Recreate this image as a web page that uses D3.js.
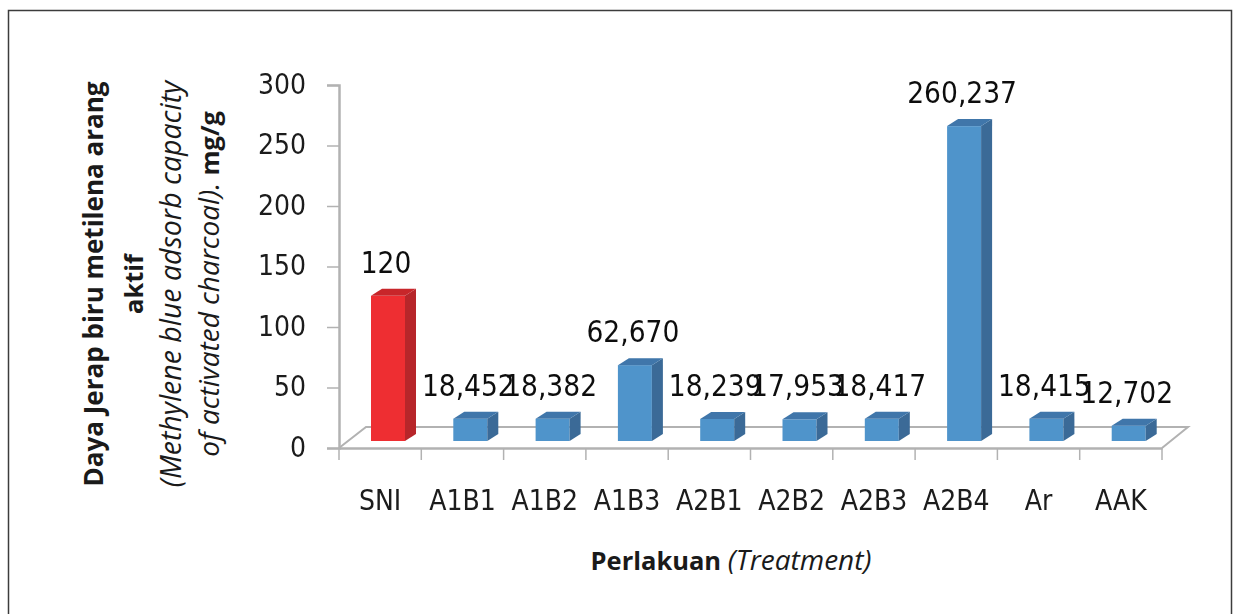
<!DOCTYPE html>
<html>
<head>
<meta charset="utf-8">
<script src="https://cdn.jsdelivr.net/npm/d3@7"></script>
<style>
  html, body { margin: 0; padding: 0; background: #fff; }
  svg { display: block; }
</style>
</head>
<body>
<div id="chart"></div>
<script>
const categories = ["SNI", "A1B1", "A1B2", "A1B3", "A2B1", "A2B2", "A2B3", "A2B4", "Ar", "AAK"];
const values = [120, 18.452, 18.382, 62.67, 18.239, 17.953, 18.417, 260.237, 18.415, 12.702];
const valueLabels = ["120", "18,452", "18,382", "62,670", "18,239", "17,953", "18,417", "260,237", "18,415", "12,702"];
const yTicks = [0, 50, 100, 150, 200, 250, 300];

const width = 1239;
const height = 614;

const svg = d3.select("#chart").append("svg")
  .attr("width", width)
  .attr("height", height);

// the picture is a soft scan, a very light blur gets closer to it
svg.append("defs").append("filter")
  .attr("id", "soft")
  .append("feGaussianBlur")
  .attr("stdDeviation", 0.45);

// frame, open at the bottom
svg.append("path")
  .attr("d", "M8.5,614V10.5H1231.5V614")
  .attr("fill", "none")
  .attr("stroke", "#3c3c3c")
  .attr("stroke-width", 1.5);

const x = d3.scaleBand().domain(categories).range([339, 1162]);
const y = d3.scaleLinear().domain([0, 300]).range([448, 85]);

// 3d depth of the floor and of the bars
const floorDx = 27, floorDy = 21;
const barDx = 11, barDy = 7;
const barWidth = 34;
const barInset = 32;

const plot = svg.append("g").attr("filter", "url(#soft)");

const axisColor = "#b2b2b2";
const labelFont = "'DejaVu Sans Condensed', 'DejaVu Sans'";

plot.append("polyline")
  .attr("fill", "none")
  .attr("stroke", axisColor)
  .attr("stroke-width", 2)
  .attr("points", [
    [x.range()[0], y(0)],
    [x.range()[0] + floorDx, y(0) - floorDy],
    [x.range()[1] + floorDx - 1, y(0) - floorDy],
    [x.range()[1], y(0)]
  ].join(" "));

const yAxis = d3.axisLeft(y).tickValues(yTicks).tickSize(12).tickPadding(21);
const xAxis = d3.axisBottom(x).tickSize(0).tickPadding(42);

const gy = plot.append("g")
  .attr("transform", "translate(339,0)")
  .call(yAxis);

const gx = plot.append("g")
  .attr("transform", `translate(0,${y(0)})`)
  .call(xAxis);

// ticks sit between the categories
gx.selectAll(".tick line").remove();
gx.selectAll(".edge")
  .data(categories.map(c => x(c)).concat(x.range()[1]))
  .enter()
  .append("line")
  .attr("x1", d => d)
  .attr("x2", d => d)
  .attr("y1", 0)
  .attr("y2", 12)
  .attr("stroke", axisColor)
  .attr("stroke-width", 1.5);

[gx, gy].forEach(g => {
  g.select(".domain").attr("stroke", axisColor).attr("stroke-width", 2.5);
  g.selectAll(".tick line").attr("stroke", axisColor).attr("stroke-width", 1.5);
  g.selectAll("text")
    .attr("fill", "#1a1a1a")
    .style("font-family", labelFont)
    .style("font-stretch", "condensed")
    .style("font-size", "28px");
});
gy.selectAll("text").attr("dy", "0.3em");

const colors = {
  blue: { front: "#5094cb", side: "#3a6a97", top: "#3f76aa" },
  red: { front: "#ee2f33", side: "#b7272b", top: "#c8282c" }
};

const bars = plot.append("g")
  .selectAll("g")
  .data(categories.map((c, i) => ({ c: c, v: values[i], label: valueLabels[i] })))
  .enter()
  .append("g");

const colorOf = d => d.c === "SNI" ? colors.red : colors.blue;
const barLeft = d => x(d.c) + barInset;
const barRight = d => barLeft(d) + barWidth;
const barTop = d => y(d.v) - barDy;
const barBase = y(0) - barDy;

bars.append("rect")
  .attr("x", barLeft)
  .attr("y", barTop)
  .attr("width", barWidth)
  .attr("height", d => barBase - barTop(d))
  .attr("fill", d => colorOf(d).front);

bars.append("polygon")
  .attr("fill", d => colorOf(d).side)
  .attr("points", d => [
    [barRight(d), barTop(d)],
    [barRight(d) + barDx, barTop(d) - barDy],
    [barRight(d) + barDx, barBase - barDy],
    [barRight(d), barBase]
  ].join(" "));

bars.append("polygon")
  .attr("fill", d => colorOf(d).top)
  .attr("points", d => [
    [barLeft(d), barTop(d)],
    [barLeft(d) + barDx, barTop(d) - barDy],
    [barRight(d) + barDx, barTop(d) - barDy],
    [barRight(d), barTop(d)]
  ].join(" "));

bars.append("text")
  .attr("x", d => barLeft(d) + barWidth / 2 - 2)
  .attr("y", d => barTop(d) - barDy - 16)
  .attr("text-anchor", "middle")
  .attr("fill", "#111")
  .style("font-family", labelFont)
  .style("font-stretch", "condensed")
  .style("font-size", "29.5px")
  .text(d => d.label);

// axis titles, the italic parts are set larger since Open Sans italic runs narrow
const titleFont = "'Open Sans'";
const boldSize = "25.5px";
const italicSize = "28px";

const yTitle = [
  { x: 103, parts: [["Daya Jerap biru metilena arang", "bold", "normal", "26px"]] },
  { x: 143, parts: [["aktif", "bold", "normal", boldSize]] },
  { x: 181, parts: [["(Methylene blue adsorb capacity", "normal", "italic", "28.5px"]] },
  { x: 219, parts: [["of activated charcoal). ", "normal", "italic", italicSize], ["mg/g", "bold", "normal", boldSize]] }
];

const yTitles = svg.selectAll(".y-title")
  .data(yTitle)
  .enter()
  .append("text")
  .attr("class", "y-title")
  .attr("transform", d => `translate(${d.x},284) rotate(-90)`)
  .attr("text-anchor", "middle")
  .attr("fill", "#1a1a1a")
  .style("font-family", titleFont);

yTitles.selectAll("tspan")
  .data(d => d.parts)
  .enter()
  .append("tspan")
  .style("font-weight", d => d[1])
  .style("font-style", d => d[2])
  .style("font-size", d => d[3])
  .text(d => d[0]);

const xTitle = svg.append("text")
  .attr("x", 731)
  .attr("y", 570)
  .attr("text-anchor", "middle")
  .attr("fill", "#1a1a1a")
  .style("font-family", titleFont);

xTitle.append("tspan").style("font-weight", "bold").style("font-size", boldSize).text("Perlakuan ");
xTitle.append("tspan").style("font-style", "italic").style("font-size", italicSize).text("(Treatment)");
</script>
</body>
</html>
